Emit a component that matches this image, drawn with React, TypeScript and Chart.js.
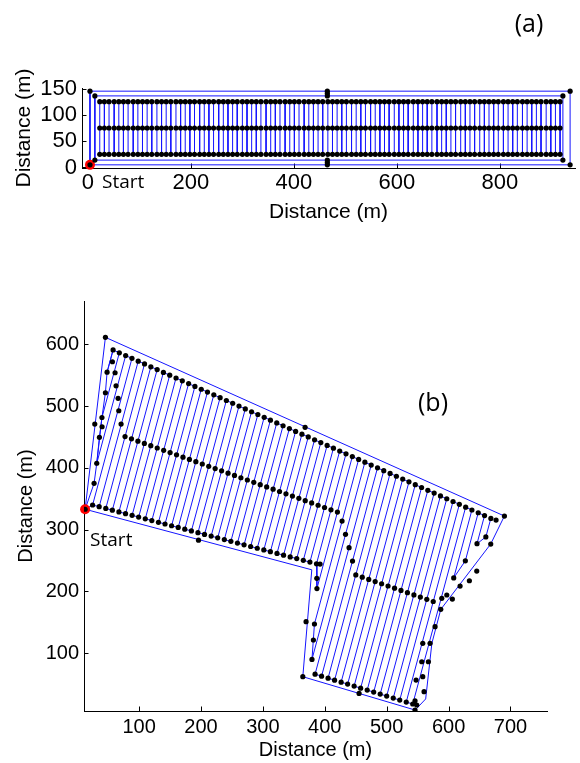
import React, { useEffect, useRef } from "react";
import { Chart, registerables } from "chart.js";

Chart.register(...registerables);

// ---------------- Panel (a) data ----------------
const A_X_TICKS = [0, 200, 400, 600, 800];
const A_Y_TICKS = [0, 50, 100, 150];
const A_SWATH_X = [
  23, 32, 41, 51, 60, 69, 78, 88, 97, 106,
  115, 124, 134, 143, 152, 161, 171, 180, 189, 198,
  207, 217, 226, 235, 244, 254, 263, 272, 281, 290,
  300, 309, 318, 327, 336, 346, 355, 364, 373, 383,
  392, 401, 410, 420, 429, 438, 447, 456, 466, 475,
  484, 493, 502, 512, 521, 530, 539, 549, 558, 567,
  576, 585, 595, 604, 613, 622, 632, 641, 650, 659,
  668, 678, 687, 696, 705, 714, 724, 733, 742, 751,
  761, 770, 779, 788, 797, 807, 816, 825, 834, 844,
  853, 862, 871, 880, 890, 899, 908, 917,
];
const A_SWATH_LOW = 25;
const A_SWATH_HIGH = 125;
const A_ROWS_Y = [25, 75, 125];
const A_OUTER_X = [4, 936.5, 936.5, 4, 4];
const A_OUTER_Y = [5, 5, 145, 145, 5];
const A_INNER_X = [13.5, 922.5, 922.5, 13.5, 13.5];
const A_INNER_Y = [14, 14, 136, 136, 14];
const A_TURN_X = [4, 4, 13.5, 13.5, 922.5, 922.5, 936.5, 936.5, 465, 465, 465, 465, 465, 465];
const A_TURN_Y = [5, 145, 136, 14, 136, 14, 145, 5, 145, 140.5, 136, 14, 9.5, 5];
const A_START_X = 4;
const A_START_Y = 5;

// ---------------- Panel (b) data ----------------
const B_X_TICKS = [100, 200, 300, 400, 500, 600, 700];
const B_Y_TICKS = [100, 200, 300, 400, 500, 600];
const B_BOUNDARY_X = [45.6, 690.2, 668, 587.4, 573, 563, 546, 364.5, 379, 12.8, 45.6];
const B_BOUNDARY_Y = [611.2, 322, 276.7, 171, 116, 26, 8, 62, 235, 333, 611.2];
const B_LOW_X = [
  48.3, 40.0, 31.6, 24.9, 35.5, 46.2, 56.8, 67.4, 78.1, 88.7,
  99.3, 110.0, 120.6, 131.3, 141.9, 152.5, 163.2, 173.8, 184.5, 195.1,
  205.7, 216.4, 227.0, 237.7, 248.3, 258.9, 269.6, 280.2, 290.9, 301.5,
  312.1, 322.8, 333.4, 344.1, 354.7, 365.3, 376.0, 386.6, 387.3, 383.3,
  379.3, 384.3, 394.8, 405.3, 415.8, 426.4, 436.9, 447.4, 457.9, 468.5,
  479.0, 489.5, 500.0, 510.6, 521.1, 531.6, 542.1, 608.3, 627.1, 645.9,
  660.2,
];
const B_LOW_Y = [
  554.8, 481.5, 407.4, 339.9, 337.1, 334.3, 331.5, 328.7, 325.9, 323.1,
  320.3, 317.5, 314.7, 311.9, 309.1, 306.3, 303.5, 300.7, 297.9, 295.1,
  292.3, 289.5, 286.7, 283.9, 281.1, 278.3, 275.5, 272.7, 269.9, 267.1,
  264.3, 261.5, 258.7, 255.9, 253.1, 250.3, 247.5, 244.7, 204.7, 147.3,
  90.0, 66.1, 62.9, 59.6, 56.4, 53.2, 50.0, 46.8, 43.5, 40.3,
  37.1, 33.9, 30.7, 27.4, 24.2, 21.0, 17.8, 221.9, 249.6, 277.2,
  288.2,
];
const B_TOP_X = [
  58.0, 68.1, 78.3, 88.5, 98.6, 108.8, 119.0, 129.2, 139.3, 149.5,
  159.7, 169.8, 180.0, 190.2, 200.4, 210.5, 220.7, 230.9, 241.0, 251.2,
  261.4, 271.6, 281.7, 291.9, 302.1, 312.2, 322.4, 332.6, 342.8, 352.9,
  363.1, 373.3, 383.5, 393.6, 403.8, 414.0, 424.1, 434.3, 444.5, 454.7,
  464.8, 475.0, 485.2, 495.3, 505.5, 515.7, 525.9, 536.0, 546.2, 556.4,
  566.5, 576.7, 586.9, 597.1, 607.2, 617.4, 627.6, 637.7, 647.9, 658.1,
  668.3,
];
const B_TOP_Y = [
  590.8, 586.2, 581.7, 577.2, 572.6, 568.1, 563.5, 559.0, 554.4, 549.9,
  545.4, 540.8, 536.3, 531.7, 527.2, 522.6, 518.1, 513.6, 509.0, 504.5,
  499.9, 495.4, 490.8, 486.3, 481.8, 477.2, 472.7, 468.1, 463.6, 459.0,
  454.5, 450.0, 445.4, 440.9, 436.3, 431.8, 427.2, 422.7, 418.2, 413.6,
  409.1, 404.5, 400.0, 395.4, 390.9, 386.4, 381.8, 377.3, 372.7, 368.2,
  363.6, 359.1, 354.6, 350.0, 345.5, 340.9, 336.4, 331.8, 327.3, 322.7,
  318.2,
];
const B_MID_X = [
  77.3, 87.7, 98.1, 108.5, 118.9, 129.3, 139.7, 150.1, 160.5, 170.9,
  181.3, 191.7, 202.1, 212.5, 222.9, 233.3, 243.7, 254.1, 264.5, 274.9,
  285.3, 295.7, 306.1, 316.5, 326.9, 337.3, 347.7, 358.1, 368.4, 378.8,
  389.2, 399.6, 410.0, 420.4, 427.9, 433.5, 439.2, 444.8, 450.1, 460.5,
  471.0, 481.4, 491.8, 502.2, 512.7, 523.1, 533.5, 544.0, 554.4, 564.8,
  575.2,
];
const B_MID_Y = [
  450.6, 446.9, 443.2, 439.5, 435.8, 432.1, 428.4, 424.7, 421.0, 417.3,
  413.6, 409.9, 406.2, 402.5, 398.8, 395.1, 391.4, 387.7, 384.0, 380.3,
  376.5, 372.8, 369.1, 365.4, 361.7, 358.0, 354.3, 350.6, 346.9, 343.2,
  339.5, 335.8, 332.1, 328.4, 313.9, 292.4, 270.8, 249.2, 226.7, 223.1,
  219.5, 215.9, 212.4, 208.8, 205.2, 201.6, 198.0, 194.4, 190.8, 187.2,
  183.7,
];
const B_EXTRA_X = [
  45.6, 56.9, 61.2, 45.6, 62.8, 66.1, 28.4, 40.2, 67.2, 70.9, 35.9, 27.3,
  368.2, 196, 455.4,
  392.4, 387.1, 369.8, 364.5, 381.6,
  690.2, 676.7, 668.1, 645.5, 633.6, 618.6, 606.1, 597.1, 589, 587.4,
  578.2, 570.1, 558.3, 567.4, 556.7, 558.3, 560.4, 547.5, 545.8, 548.6, 545.8,
];
const B_EXTRA_Y = [
  611.2, 571.7, 553.9, 521.5, 532.8, 512.5, 470.9, 466.5, 492.4, 470.9, 449.4, 374.9,
  465.5, 283, 35,
  244.3, 221.2, 151, 62, 121.4,
  322, 315.5, 276.7, 233, 217.3, 208.7, 187.7, 194.2, 188.8, 171,
  142.9, 116, 116, 86.2, 86.2, 62, 37.7, 56.6, 23.1, 16.2, 8.1,
];
const B_HEADLAND_X = [24.9, 12.8, 27.3, 31.6, 35.9, 40.0, 45.6, 48.3, 58.0];
const B_HEADLAND_Y = [339.9, 333, 374.9, 407.4, 449.4, 481.5, 521.5, 554.8, 590.8];
const B_START_X = 12.8;
const B_START_Y = 333;

// ---------------- helpers ----------------
const AXIS_FONT = "'Liberation Sans', Arial, Helvetica, sans-serif";
const NOTE_FONT = "'Open Sans', 'Noto Sans', sans-serif";
const BLUE = "rgb(20,20,255)";

type Pt = { x: number; y: number };
const zip = (xs: number[], ys: number[]): Pt[] => xs.map((x, i) => ({ x, y: ys[i] }));

function serpentine(lowX: number[], lowY: number[], topX: number[], topY: number[]): Pt[] {
  const out: Pt[] = [];
  for (let k = 0; k < lowX.length; k++) {
    const lo = { x: lowX[k], y: lowY[k] };
    const hi = { x: topX[k], y: topY[k] };
    if (k % 2 === 0) out.push(lo, hi);
    else out.push(hi, lo);
  }
  return out;
}

function inwardTicks(len: number) {
  return {
    id: "inwardTicks",
    beforeDatasetsDraw(chart: any) {
      const { ctx, chartArea, scales } = chart;
      ctx.save();
      ctx.strokeStyle = "#000";
      ctx.lineWidth = 1;
      for (const t of scales.x.ticks) {
        const px = Math.round(scales.x.getPixelForValue(t.value)) + 0.5;
        ctx.beginPath();
        ctx.moveTo(px, chartArea.bottom);
        ctx.lineTo(px, chartArea.bottom - len);
        ctx.stroke();
      }
      for (const t of scales.y.ticks) {
        const py = Math.round(scales.y.getPixelForValue(t.value)) + 0.5;
        ctx.beginPath();
        ctx.moveTo(chartArea.left, py);
        ctx.lineTo(chartArea.left + len, py);
        ctx.stroke();
      }
      ctx.restore();
    },
  };
}

type Note = { text: string; font: string; align: CanvasTextAlign; x?: number; y?: number; ax?: number; ay?: number; dx?: number; dy?: number };

function notes(items: Note[]) {
  return {
    id: "notes",
    afterDraw(chart: any) {
      const { ctx, scales } = chart;
      for (const it of items) {
        let x = it.x ?? 0;
        let y = it.y ?? 0;
        if (it.ax !== undefined && it.ay !== undefined) {
          x = scales.x.getPixelForValue(it.ax) + (it.dx ?? 0);
          y = scales.y.getPixelForValue(it.ay) + (it.dy ?? 0);
        }
        ctx.save();
        ctx.font = it.font;
        ctx.fillStyle = "#000";
        ctx.textAlign = it.align;
        ctx.textBaseline = "middle";
        ctx.fillText(it.text, x, y);
        ctx.restore();
      }
    },
  };
}

type AxesSpec = {
  xMin: number; xMax: number; yMin: number; yMax: number;
  xTicks: number[]; yTicks: number[];
  xHeight: number; yWidth: number;
  tickSize: number; titleSize: number;
  xPad: number; yPad: number; xTitlePad: number; yTitlePad: number;
};

function axes(s: AxesSpec) {
  const tickFont = { family: AXIS_FONT, size: s.tickSize };
  const titleFont = { family: AXIS_FONT, size: s.titleSize };
  return {
    x: {
      type: "linear" as const,
      min: s.xMin,
      max: s.xMax,
      afterBuildTicks: (sc: any) => { sc.ticks = s.xTicks.map((v) => ({ value: v })); },
      afterFit: (sc: any) => { sc.height = s.xHeight; },
      grid: { display: false, drawTicks: false },
      border: { display: true, color: "#000", width: 1 },
      ticks: { color: "#000", font: tickFont, padding: s.xPad, autoSkip: false, maxRotation: 0, callback: (v: any) => String(v) },
      title: { display: true, text: "Distance (m)", color: "#000", font: titleFont, padding: { top: 0, bottom: s.xTitlePad } },
    },
    y: {
      type: "linear" as const,
      min: s.yMin,
      max: s.yMax,
      afterBuildTicks: (sc: any) => { sc.ticks = s.yTicks.map((v) => ({ value: v })); },
      afterFit: (sc: any) => { sc.width = s.yWidth; },
      grid: { display: false, drawTicks: false },
      border: { display: true, color: "#000", width: 1 },
      ticks: { color: "#000", font: tickFont, padding: s.yPad, autoSkip: false, callback: (v: any) => String(v) },
      title: { display: true, text: "Distance (m)", color: "#000", font: titleFont, padding: { top: s.yTitlePad, bottom: 0 } },
    },
  };
}

function lineSet(data: Pt[], order: number) {
  return { data, showLine: true, pointRadius: 0, borderColor: BLUE, borderWidth: 1, fill: false, tension: 0, order };
}
function dotSet(data: Pt[], r: number, color: string, order: number, clip?: boolean) {
  const d: any = { data, showLine: false, pointRadius: r, pointBackgroundColor: color, backgroundColor: color, pointBorderWidth: 0, borderWidth: 0, order };
  if (clip === false) d.clip = false;
  return d;
}

function configA(): any {
  const swath: Pt[] = [];
  A_SWATH_X.forEach((x, i) => {
    if (i % 2 === 0) swath.push({ x, y: A_SWATH_LOW }, { x, y: A_SWATH_HIGH });
    else swath.push({ x, y: A_SWATH_HIGH }, { x, y: A_SWATH_LOW });
  });
  const dots: Pt[] = [];
  A_SWATH_X.forEach((x) => A_ROWS_Y.forEach((y) => dots.push({ x, y })));
  dots.push(...zip(A_TURN_X, A_TURN_Y));
  return {
    type: "scatter",
    data: {
      datasets: [
        dotSet(dots, 2.6, "#000", 0),
        dotSet([{ x: A_START_X, y: A_START_Y }], 5, "#ff0000", 1, false),
        lineSet(swath, 2),
        lineSet(zip(A_OUTER_X, A_OUTER_Y), 3),
        lineSet(zip(A_INNER_X, A_INNER_Y), 4),
      ],
    },
    options: {
      responsive: false,
      animation: false,
      devicePixelRatio: 1,
      events: [],
      layout: { padding: { top: 88, right: 0, left: 0, bottom: 0 } },
      plugins: { legend: { display: false }, tooltip: { enabled: false } },
      scales: axes({
        xMin: -11.5, xMax: 946, yMin: -1, yMax: 151,
        xTicks: A_X_TICKS, yTicks: A_Y_TICKS,
        xHeight: 62, yWidth: 82,
        tickSize: 22, titleSize: 21,
        xPad: 1.5, yPad: 5, xTitlePad: 5.4, yTitlePad: 11.4,
      }),
    },
    plugins: [
      inwardTicks(4.5),
      notes([
        { text: "Start", font: `19px ${NOTE_FONT}`, align: "left", ax: A_START_X, ay: A_START_Y, dx: 12, dy: 18 },
        { text: "(a)", font: `25px ${NOTE_FONT}`, align: "center", x: 529, y: 25 },
      ]),
    ],
  };
}

function configB(): any {
  const dots: Pt[] = [
    ...zip(B_LOW_X, B_LOW_Y),
    ...zip(B_TOP_X, B_TOP_Y),
    ...zip(B_MID_X, B_MID_Y),
    ...zip(B_EXTRA_X, B_EXTRA_Y),
    { x: B_START_X, y: B_START_Y },
  ];
  return {
    type: "scatter",
    data: {
      datasets: [
        dotSet(dots, 2.6, "#000", 0),
        dotSet([{ x: B_START_X, y: B_START_Y }], 5, "#ff0000", 1, false),
        lineSet(serpentine(B_LOW_X, B_LOW_Y, B_TOP_X, B_TOP_Y), 2),
        lineSet(zip(B_BOUNDARY_X, B_BOUNDARY_Y), 3),
        lineSet(zip(B_HEADLAND_X, B_HEADLAND_Y), 4),
      ],
    },
    options: {
      responsive: false,
      animation: false,
      devicePixelRatio: 1,
      events: [],
      layout: { padding: { top: 61, right: 33, left: 0, bottom: 0 } },
      plugins: { legend: { display: false }, tooltip: { enabled: false } },
      scales: axes({
        xMin: 11, xMax: 759, yMin: 6.5, yMax: 670,
        xTicks: B_X_TICKS, yTicks: B_Y_TICKS,
        xHeight: 52, yWidth: 84,
        tickSize: 20, titleSize: 20,
        xPad: 4, yPad: 5, xTitlePad: 1, yTitlePad: 14.7,
      }),
    },
    plugins: [
      inwardTicks(4.5),
      notes([
        { text: "Start", font: `19px ${NOTE_FONT}`, align: "left", ax: B_START_X, ay: B_START_Y, dx: 5, dy: 31 },
        { text: "(b)", font: `25px ${NOTE_FONT}`, align: "center", x: 433, y: 164 },
      ]),
    ],
  };
}

function Panel({ makeConfig, top, height }: { makeConfig: () => any; top: number; height: number }) {
  const ref = useRef<HTMLCanvasElement>(null);
  useEffect(() => {
    const chart = new Chart(ref.current as HTMLCanvasElement, makeConfig());
    return () => chart.destroy();
  }, []);
  return (
    <canvas
      ref={ref}
      width={580}
      height={height}
      style={{ position: "absolute", left: 0, top, width: 580, height, display: "block" }}
    />
  );
}

export default function App() {
  return (
    <div style={{ position: "absolute", left: 0, top: 0, width: 580, height: 763, background: "#fff", overflow: "hidden" }}>
      <Panel makeConfig={configA} top={0} height={230} />
      <Panel makeConfig={configB} top={240} height={523} />
    </div>
  );
}
